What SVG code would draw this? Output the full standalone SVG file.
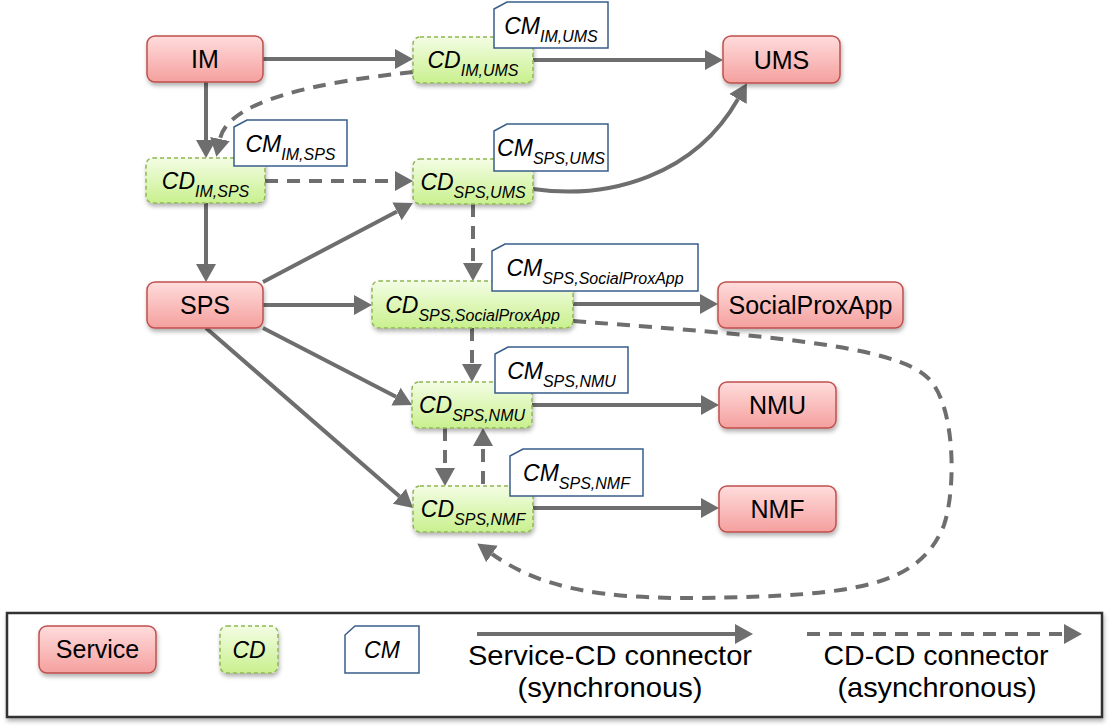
<svg xmlns="http://www.w3.org/2000/svg" width="1119" height="728" viewBox="0 0 1119 728">
<style>
.svc rect{fill:url(#gSvc);stroke:#c0504d;stroke-width:1.5;filter:url(#sh)}
.cd rect{fill:url(#gCD);stroke:#8fb653;stroke-width:1.5;stroke-dasharray:4 3;filter:url(#sh)}
.cm path{fill:#fff;stroke:#385d8a;stroke-width:1.5}
.st{font-family:"Liberation Sans",Arial,sans-serif;font-size:25px;fill:#000;text-anchor:middle}
.it{font-family:"Liberation Sans",Arial,sans-serif;font-style:italic;font-size:23px;fill:#000;text-anchor:middle}
.sub{font-size:16px}
.lg{font-family:"Liberation Sans",Arial,sans-serif;font-size:28px;fill:#000;text-anchor:middle}
.c{fill:none;stroke:#6e6e6e;stroke-width:4}
.d{stroke-dasharray:13 9}
.a{marker-end:url(#ah)}
</style>
<defs>
<linearGradient id="gSvc" x1="0" y1="0" x2="0" y2="1"><stop offset="0" stop-color="#ffdcdc"/><stop offset="1" stop-color="#f4a09e"/></linearGradient>
<linearGradient id="gCD" x1="0" y1="0" x2="0" y2="1"><stop offset="0" stop-color="#f3fde4"/><stop offset="1" stop-color="#c9f08e"/></linearGradient>
<filter id="sh" x="-20%" y="-20%" width="140%" height="160%"><feDropShadow dx="1" dy="3" stdDeviation="2" flood-color="#000" flood-opacity="0.3"/></filter>
<marker id="ah" markerUnits="userSpaceOnUse" markerWidth="20" markerHeight="22" refX="0" refY="11" orient="auto" viewBox="0 0 20 22"><path d="M0,1 L18,11 L0,21 Z" fill="#6e6e6e"/></marker>
</defs>
<rect width="1119" height="728" fill="#fff"/>

<g id="connectors">
<path class="c a" d="M263,59 L395,59"/>
<path class="c a" d="M533,60 L705,60"/>
<path class="c a" d="M206,82 L206,140"/>
<path class="c d a" d="M413,72 C320,82 228,100 220,139"/>
<path class="c d a" d="M265,181 L395,181"/>
<path class="c a" d="M533,189 C610,200 695,175 738,99"/>
<path class="c d a" d="M473,204 L473,263"/>
<path class="c a" d="M263,282 L397,211.4"/>
<path class="c a" d="M206,203 L206,264"/>
<path class="c a" d="M263,305 L354,305"/>
<path class="c a" d="M573,304 L700,304"/>
<path class="c d a" d="M472,328 L472,364"/>
<path class="c a" d="M263,328 L396,396.7"/>
<path class="c a" d="M206,328 L399.4,496.2"/>
<path class="c a" d="M532,405 L701,405"/>
<path class="c d a" d="M445,428 L445,468"/>
<path class="c d a" d="M483,484 L483,446"/>
<path class="c a" d="M533,508 L701,508"/>
<path class="c d a" d="M573,321 C760,335 895,345 928,378 C956,405 956,490 944,525 C920,585 860,596 700,598 C600,599 540,588 492,554"/>
</g>

<g id="IM" class="svc"><rect x="147" y="36" width="116" height="46" rx="8"/><text class="st" x="205" y="68">IM</text></g>
<g id="UMS" class="svc"><rect x="723" y="36" width="117" height="47" rx="8"/><text class="st" x="781.5" y="68.5">UMS</text></g>
<g id="SPS" class="svc"><rect x="147" y="282" width="116" height="46" rx="8"/><text class="st" x="205" y="314">SPS</text></g>
<g id="SocialProxApp" class="svc"><rect x="718" y="282" width="185" height="46" rx="8"/><text class="st" x="810.5" y="314">SocialProxApp</text></g>
<g id="NMU" class="svc"><rect x="719" y="382" width="117" height="46" rx="8"/><text class="st" x="777.5" y="414">NMU</text></g>
<g id="NMF" class="svc"><rect x="719" y="486" width="117" height="46" rx="8"/><text class="st" x="777.5" y="518">NMF</text></g>

<g id="CD_IM_UMS" class="cd"><rect x="413" y="37" width="120" height="46" rx="7"/><text class="it" x="473" y="68">CD<tspan class="sub" dy="8">IM,UMS</tspan></text></g>
<g id="CD_IM_SPS" class="cd"><rect x="146" y="158" width="119" height="45" rx="7"/><text class="it" x="205.5" y="188.5">CD<tspan class="sub" dy="8">IM,SPS</tspan></text></g>
<g id="CD_SPS_UMS" class="cd"><rect x="413" y="159" width="120" height="45" rx="7"/><text class="it" x="473" y="189.5">CD<tspan class="sub" dy="8">SPS,UMS</tspan></text></g>
<g id="CD_SPS_SocialProxApp" class="cd"><rect x="372" y="281" width="201" height="47" rx="7"/><text class="it" x="472.5" y="312.5">CD<tspan class="sub" dy="8">SPS,SocialProxApp</tspan></text></g>
<g id="CD_SPS_NMU" class="cd"><rect x="412" y="382" width="120" height="46" rx="7"/><text class="it" x="472" y="413">CD<tspan class="sub" dy="8">SPS,NMU</tspan></text></g>
<g id="CD_SPS_NMF" class="cd"><rect x="413" y="486" width="120" height="46" rx="7"/><text class="it" x="473" y="517">CD<tspan class="sub" dy="8">SPS,NMF</tspan></text></g>

<g id="CM_IM_UMS" class="cm"><path d="M494,9 L507,2 L608,2 L608,48 L494,48 Z"/><text class="it" x="551" y="34">CM<tspan class="sub" dy="8">IM,UMS</tspan></text></g>
<g id="CM_IM_SPS" class="cm"><path d="M234,127 L247,120 L347,120 L347,166 L234,166 Z"/><text class="it" x="290.5" y="152">CM<tspan class="sub" dy="8">IM,SPS</tspan></text></g>
<g id="CM_SPS_UMS" class="cm"><path d="M494,131 L507,124 L608,124 L608,171 L494,171 Z"/><text class="it" x="551" y="156">CM<tspan class="sub" dy="8">SPS,UMS</tspan></text></g>
<g id="CM_SPS_SocialProxApp" class="cm"><path d="M492,251 L505,244 L698,244 L698,291 L492,291 Z"/><text class="it" x="595" y="276">CM<tspan class="sub" dy="8">SPS,SocialProxApp</tspan></text></g>
<g id="CM_SPS_NMU" class="cm"><path d="M495,354 L508,347 L628,347 L628,393 L495,393 Z"/><text class="it" x="561.5" y="379">CM<tspan class="sub" dy="8">SPS,NMU</tspan></text></g>
<g id="CM_SPS_NMF" class="cm"><path d="M510,456 L523,449 L643,449 L643,496 L510,496 Z"/><text class="it" x="576.5" y="481">CM<tspan class="sub" dy="8">SPS,NMF</tspan></text></g>

<g id="legend">
<rect x="7" y="613" width="1095" height="104" fill="#fff" stroke="#333" stroke-width="2.5" filter="url(#sh)"/>
<g class="svc"><rect x="39" y="626" width="117" height="47" rx="8"/><text class="st" x="97.5" y="658">Service</text></g>
<g class="cd"><rect x="220" y="626" width="58" height="47" rx="7"/><text class="it" x="249" y="658">CD</text></g>
<g class="cm"><path d="M345,635 L355,626 L419,626 L419,673 L345,673 Z"/><text class="it" x="382" y="658">CM</text></g>
<path class="c a" d="M477,634 L735,634"/>
<path class="c d a" d="M807,634 L1064,634"/>
<text class="lg" x="610" y="665" textLength="284" lengthAdjust="spacingAndGlyphs">Service-CD connector</text>
<text class="lg" x="610" y="697" textLength="185" lengthAdjust="spacingAndGlyphs">(synchronous)</text>
<text class="lg" x="936" y="665" textLength="225" lengthAdjust="spacingAndGlyphs">CD-CD connector</text>
<text class="lg" x="937" y="697" textLength="199" lengthAdjust="spacingAndGlyphs">(asynchronous)</text>
</g>
</svg>
